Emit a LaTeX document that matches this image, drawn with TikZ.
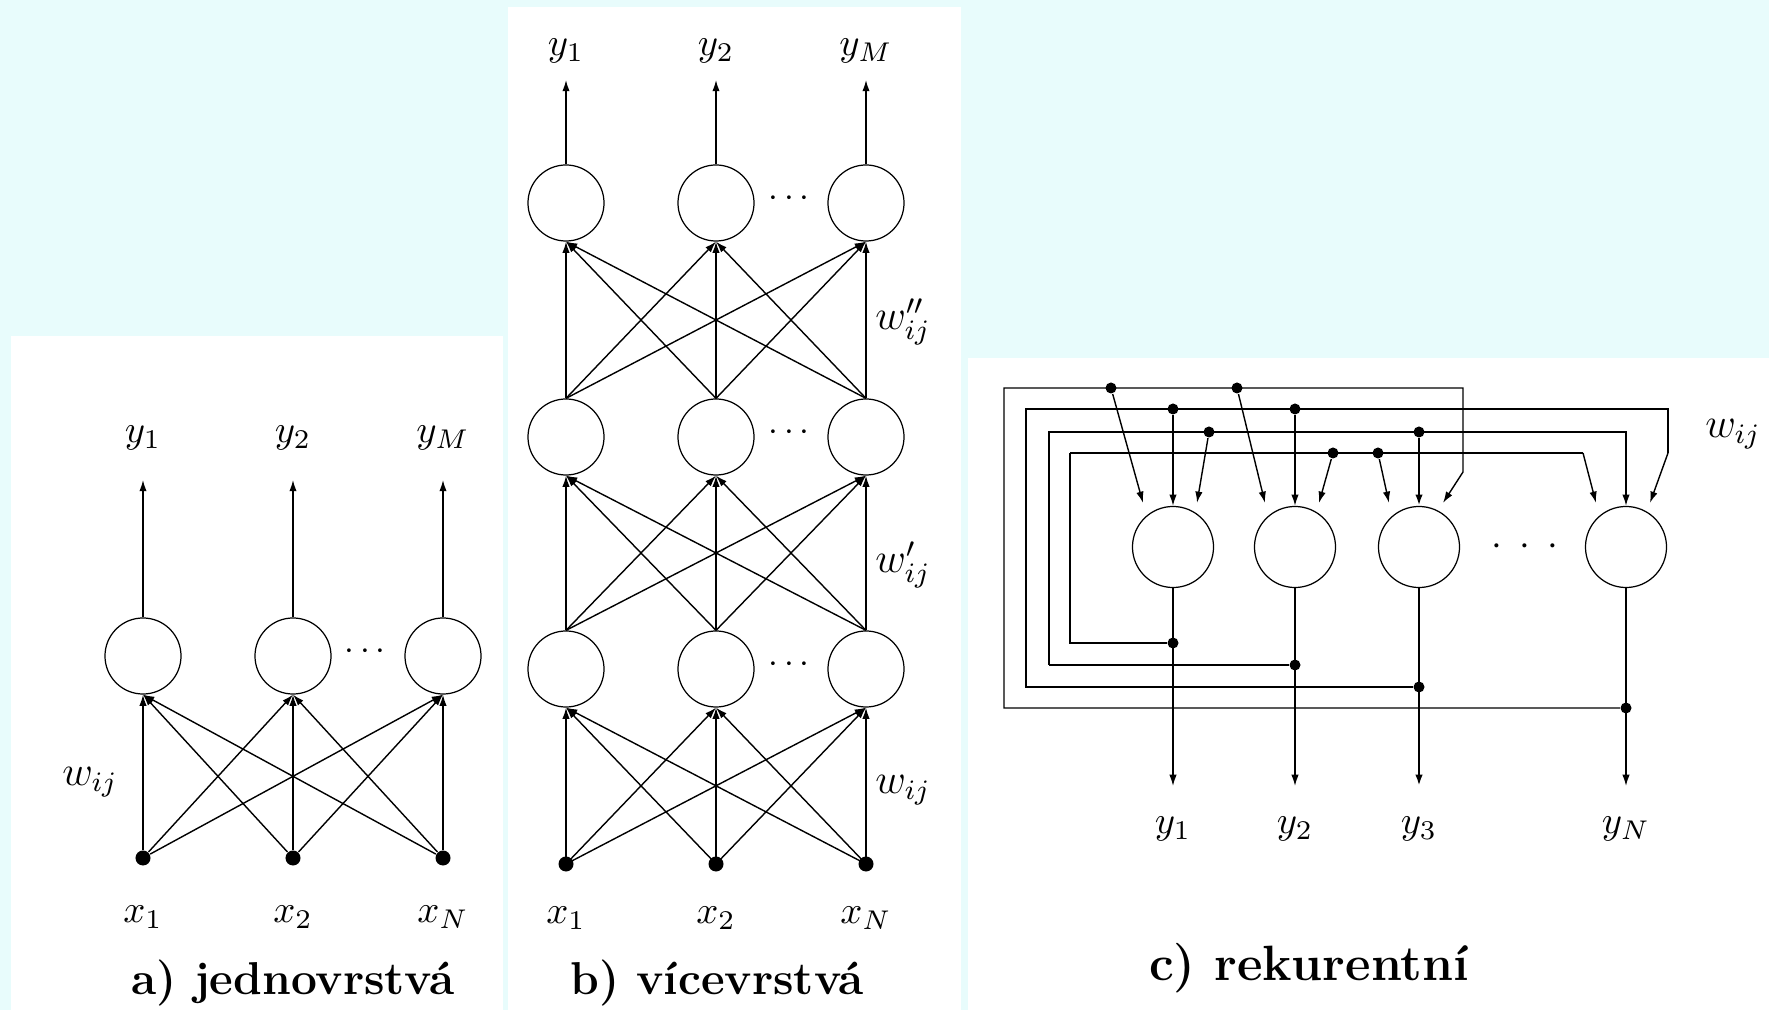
\documentclass[tikz,border=0pt]{standalone}
\usepackage{fix-cm}
\usepackage{tikz}
\usetikzlibrary{arrows.meta}
\definecolor{bgcyan}{RGB}{232,252,252}

\begin{document}
\begin{tikzpicture}[x=0.01cm, y=-0.01cm]

\tikzset{neuron/.style = {shape=circle,draw,line width=0.35pt,minimum size=0.76cm,inner sep=0}}
\tikzset{rneuron/.style = {neuron,minimum size=0.81cm}}
\tikzset{input/.style = {shape=circle,fill,inner sep=0,minimum size=0.15cm}}
\tikzset{joint/.style = {shape=circle,fill,inner sep=0,minimum size=0.11cm}}
\tikzset{edge/.style = {->,> = {Latex[length=3.2pt,width=2.1pt]},line width=0.4pt}}
\tikzset{heavy/.style = {line width=0.7pt}}
\tikzset{lbl/.style = {font=\fontsize{11}{13}\selectfont}}
\tikzset{wlbl/.style = {font=\fontsize{12}{14}\selectfont}}
\tikzset{title/.style = {font=\fontsize{13.1}{15}\selectfont\bfseries}}

%background
\fill[bgcyan] (0,0) rectangle (1769,1010);
\fill[white] (11,336) rectangle (503,1010);
\fill[white] (508,7) rectangle (961,1010);
\fill[white] (968,358) rectangle (1769,1010);
\useasboundingbox (0,0) rectangle (1769,1010);

%a) one layer
\foreach \i/\x/\s/\t in {1/143/1/1,2/293/2/2,3/443/M/N}{
  \node[neuron] (a\i) at (\x,656) {};
  \node[input] (ax\i) at (\x,858) {};
  \coordinate (ao\i) at (\x,480);
  \node[lbl] (ay\i) at (\x,438) {$y_{\s}$};
  \node[lbl] (axl\i) at (\x,917) {$x_{\t}$};
  \draw[edge] (a\i) -- (ao\i);
}
\foreach \i in {1,2,3}
  \foreach \j in {1,2,3}
    \draw[edge] (ax\i) -- (a\j.south);
\node (adots) at (365,652) {$\cdots$};
\node[wlbl] (aw) at (90,782) {$w_{ij}$};
\node[title] (ta) at (293,983) {a) jednovrstvá};

%b) more layers
\foreach \i/\x/\s/\t in {1/566/1/1,2/716/2/2,3/866/M/N}{
  \node[input] (b0\i) at (\x,864) {};
  \node[neuron] (b1\i) at (\x,669) {};
  \node[neuron] (b2\i) at (\x,437) {};
  \node[neuron] (b3\i) at (\x,203) {};
  \coordinate (bo\i) at (\x,80);
  \node[lbl] (by\i) at (\x,51) {$y_{\s}$};
  \node[lbl] (bxl\i) at (\x,918) {$x_{\t}$};
  \draw[edge] (b3\i) -- (bo\i);
}
\foreach \l/\k/\a in {0/1/center,1/2/north,2/3/north}
  \foreach \i in {1,2,3}
    \foreach \j in {1,2,3}
      \draw[edge] (b\l\i.\a) -- (b\k\j.south);
\foreach \y in {669,437,203}
  \node at (789,\y-4) {$\cdots$};
\node[wlbl] (bw3) at (903,322) {$w''_{ij}$};
\node[wlbl] (bw2) at (903,565) {$w'_{ij}$};
\node[wlbl] (bw1) at (903,790) {$w_{ij}$};
\node[title] (tb) at (717,983) {b) vícevrstvá};

%c) recurrent
\node[rneuron] (c1) at (1173,547) {};
\node[rneuron] (c2) at (1295,547) {};
\node[rneuron] (c3) at (1419,547) {};
\node[rneuron] (c4) at (1626,547) {};
\node[lbl] (cdots) at (1525,547) {$\cdot$\hspace{5pt}$\cdot$\hspace{5pt}$\cdot$};
%outputs
\foreach \i/\x/\s/\y in {1/1173/1/643,2/1295/2/665,3/1419/3/687,4/1626/N/708}{
  \coordinate (co\i) at (\x,786);
  \node[lbl] (cy\i) at (\x,829) {$y_{\s}$};
  \node[joint] (j\i) at (\x,\y) {};
}
\draw[edge] (c1) -- (co1);
\draw[edge] (c2) -- (co2);
\draw[edge,heavy] (c3) -- (co3);
\draw[edge] (c4) -- (co4);
%input points above the neurons
\foreach \i in {1,2,3,4}{
  \coordinate (c\i l) at ([xshift=-0.30cm,yshift=0.03cm]c\i.north);
  \coordinate (c\i r) at ([xshift=0.24cm,yshift=0.03cm]c\i.north);
}
%loop from N
\coordinate (k1) at (1004,388);
\coordinate (e1) at (1463,388);
\coordinate (f1) at (1463,472);
\draw[edge] (j4) -| (k1) -- (e1) -- (f1) -- (c3r);
\node[joint] (t11) at (1111,388) {};
\node[joint] (t12) at (1237,388) {};
\draw[edge] (t11) -- (c1l);
\draw[edge] (t12) -- (c2l);
%loop from 3
\coordinate (k2) at (1026,409);
\coordinate (e2) at (1668,409);
\coordinate (f2) at (1668,453);
\draw[heavy] (j3) -| (k2) -- (e2) -- (f2);
\draw[edge] (f2) -- (c4r);
\node[joint] (t21) at (1173,409) {};
\node[joint] (t22) at (1295,409) {};
\draw[edge] (t21) -- (c1.north);
\draw[edge] (t22) -- (c2.north);
%loop from 2
\coordinate (k3) at (1049,432);
\coordinate (e3) at (1626,432);
\draw[heavy] (j2) -- (j2 -| k3);
\draw[edge] (j2 -| k3) -- (k3) -- (e3) -- (c4.north);
\node[joint] (t31) at (1209,432) {};
\node[joint] (t32) at (1419,432) {};
\draw[edge] (t31) -- (c1r);
\draw[edge,heavy] (t32) -- (c3.north);
%loop from 1
\coordinate (k4) at (1070,453);
\coordinate (e4) at (1583,453);
\draw (j1) -| (k4);
\draw[heavy] (k4) -- (e4);
\draw[edge] (e4) -- (c4l);
\node[joint] (t41) at (1333,453) {};
\node[joint] (t42) at (1378,453) {};
\draw[edge] (t41) -- (c2r);
\draw[edge] (t42) -- (c3l);
\node[wlbl] (cw) at (1733,434) {$w_{ij}$};
\node[title,font=\fontsize{14.1}{16}\selectfont\bfseries] (tc) at (1309,968) {c) rekurentní};

\end{tikzpicture}
\end{document}
